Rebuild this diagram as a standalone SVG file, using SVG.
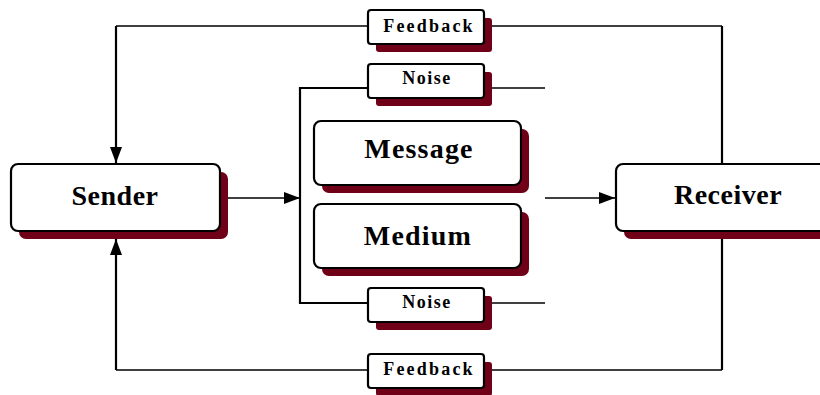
<svg xmlns="http://www.w3.org/2000/svg" width="820" height="395" viewBox="0 0 820 395">
  <style>
    .box { fill: #ffffff; stroke: #000000; stroke-width: 2.2; }
    .shadow { fill: #700018; stroke: none; }
    .line { fill: none; stroke: #000000; stroke-width: 1.4; }
    .vline { fill: none; stroke: #000000; stroke-width: 2.2; }
    .big { font-family: "Liberation Serif", "Times New Roman", serif; font-weight: bold; font-size: 28px; fill: #000000; text-anchor: middle; }
    .small { font-family: "Liberation Serif", "Times New Roman", serif; font-weight: bold; font-size: 18px; fill: #000000; text-anchor: middle; }
  </style>
  <defs>
    <marker id="arrow" viewBox="0 0 16 12" refX="16" refY="6" markerWidth="16" markerHeight="12" markerUnits="userSpaceOnUse" orient="auto">
      <path d="M0,0 L16,6 L0,12 Z" fill="#000000"/>
    </marker>
  </defs>
  <rect width="820" height="395" fill="#ffffff"/>

  <!-- connectors -->
  <g id="connectors">
    <!-- feedback loop, top -->
    <polyline class="line" points="368,26 116,26"/>
    <line class="vline" x1="116" y1="26" x2="116" y2="163" marker-end="url(#arrow)"/>
    <polyline class="line" points="492,26 722,26"/>
    <line class="vline" x1="722" y1="26" x2="722" y2="164"/>
    <!-- feedback loop, bottom -->
    <polyline class="line" points="368,370 116,370"/>
    <line class="vline" x1="116" y1="370" x2="116" y2="239" marker-end="url(#arrow)"/>
    <polyline class="line" points="492,370 722,370"/>
    <line class="vline" x1="722" y1="370" x2="722" y2="238"/>
    <!-- channel bracket with noise -->
    <polyline class="vline" points="368,88 300,88 300,303 368,303"/>
    <line class="line" x1="492" y1="88" x2="545" y2="88"/>
    <line class="line" x1="492" y1="303" x2="545" y2="303"/>
    <!-- signal flow -->
    <line class="line" x1="228" y1="198" x2="300" y2="198" marker-end="url(#arrow)"/>
    <line class="line" x1="545" y1="198" x2="615" y2="198" marker-end="url(#arrow)"/>
  </g>

  <g id="sender">
    <rect class="shadow" x="19" y="172" width="209" height="67" rx="7"/>
    <rect class="box" x="11" y="164" width="209" height="67" rx="7"/>
    <text class="big" x="115" y="205" letter-spacing="0.5">Sender</text>
  </g>

  <g id="receiver">
    <rect class="shadow" x="624" y="172" width="220" height="67" rx="7"/>
    <rect class="box" x="616" y="164" width="220" height="67" rx="7"/>
    <text class="big" x="728" y="204" letter-spacing="0.5">Receiver</text>
  </g>

  <g id="message">
    <rect class="shadow" x="322" y="129" width="207" height="64" rx="7"/>
    <rect class="box" x="314" y="121" width="207" height="64" rx="7"/>
    <text class="big" x="419" y="158" letter-spacing="1.2">Message</text>
  </g>

  <g id="medium">
    <rect class="shadow" x="322" y="212" width="207" height="64" rx="7"/>
    <rect class="box" x="314" y="204" width="207" height="64" rx="7"/>
    <text class="big" x="418" y="245" letter-spacing="1.2">Medium</text>
  </g>

  <g id="feedback-top">
    <rect class="shadow" x="376" y="18" width="116" height="34" rx="3"/>
    <rect class="box" x="368" y="10" width="116" height="34" rx="3"/>
    <text class="small" x="429" y="32" letter-spacing="2.2">Feedback</text>
  </g>

  <g id="noise-top">
    <rect class="shadow" x="376" y="72" width="116" height="34" rx="3"/>
    <rect class="box" x="368" y="64" width="116" height="34" rx="3"/>
    <text class="small" x="427" y="84" letter-spacing="1.5">Noise</text>
  </g>

  <g id="noise-bottom">
    <rect class="shadow" x="376" y="296" width="116" height="34" rx="3"/>
    <rect class="box" x="368" y="288" width="116" height="34" rx="3"/>
    <text class="small" x="427" y="308" letter-spacing="1.5">Noise</text>
  </g>

  <g id="feedback-bottom">
    <rect class="shadow" x="376" y="362" width="116" height="34" rx="3"/>
    <rect class="box" x="368" y="354" width="116" height="34" rx="3"/>
    <text class="small" x="429" y="375" letter-spacing="2.2">Feedback</text>
  </g>
</svg>
